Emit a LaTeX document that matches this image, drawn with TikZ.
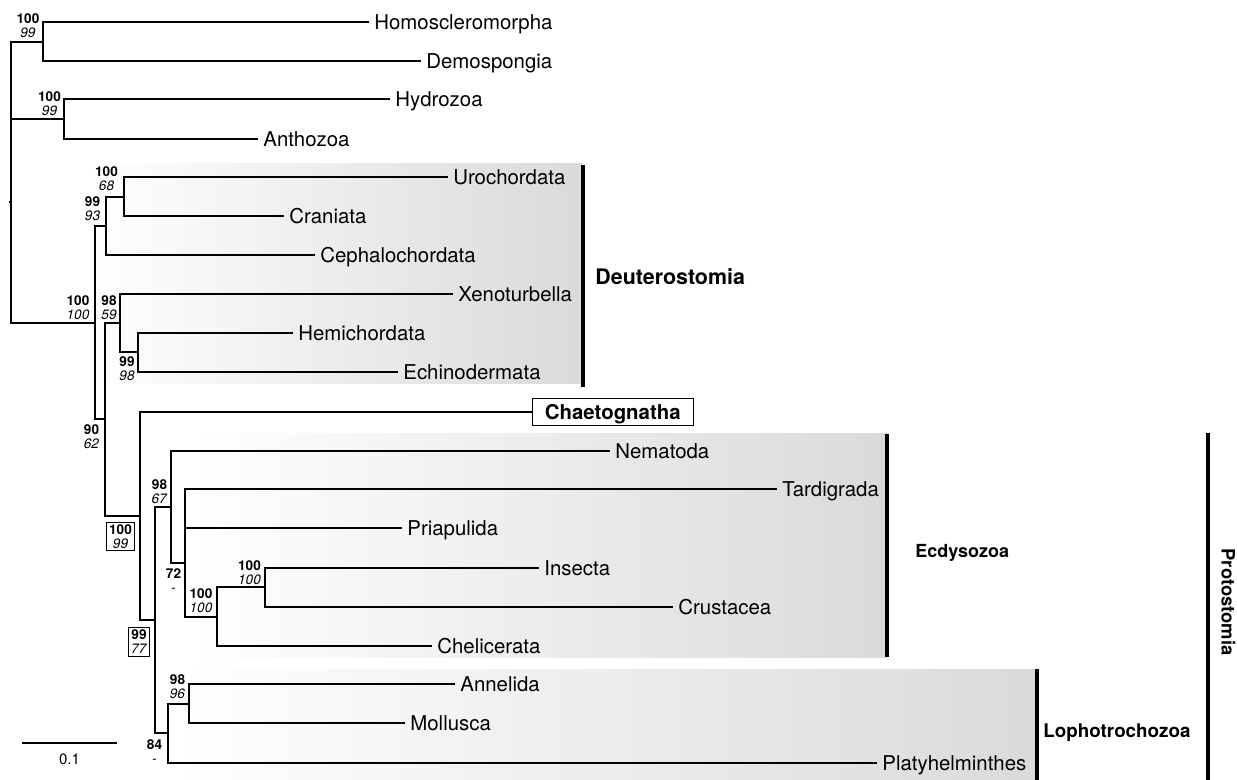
\documentclass[tikz,border=0pt]{standalone}
\usepackage{fontspec}
\setmainfont{TeX Gyre Heros}
\usepackage{tikz}
\usetikzlibrary{positioning}
\definecolor{shadegray}{HTML}{D9DADC}

\begin{document}
\begin{tikzpicture}[x=0.5pt, y=-0.5pt,
    branch/.style={line width=1.4pt},
    cladebar/.style={line width=1.7pt},
    cladebox/.style={left color=white, right color=shadegray},
    taxon/.style={anchor=west, inner xsep=2.5pt, inner ysep=0pt,
                  text height=7.3pt, text depth=0pt,
                  font=\fontsize{10.2}{12}\selectfont},
    cladename/.style={anchor=west, inner sep=0pt, text height=7.3pt,
                      text depth=0pt, font=\fontsize{10.2}{12}\selectfont\bfseries},
    bs/.style={align=center, inner sep=0pt, font=\fontsize{6.8}{7}\selectfont},
    bsbox/.style={bs, draw, line width=0.5pt, inner sep=1.1pt}
]
\useasboundingbox (0,0) rectangle (1237,780);

% --- shaded clades ---
\shade[cladebox] (88,164) rectangle (583,384);
\shade[cladebox] (190,434) rectangle (887,657);
\shade[cladebox] (177,669) rectangle (1037,780);

% --- taxa ---
\node[taxon] (homo) at (369,22)  {Homoscleromorpha};
\node[taxon] (demo) at (421,61)  {Demospongia};
\node[taxon] (hydr) at (390,99)  {Hydrozoa};
\node[taxon] (anth) at (258,139) {Anthozoa};
\node[taxon] (uroc) at (448,177) {Urochordata};
\node[taxon] (cran) at (284,216) {Craniata};
\node[taxon] (ceph) at (315,255) {Cephalochordata};
\node[taxon] (xeno) at (453,294) {Xenoturbella};
\node[taxon] (hemi) at (293,333) {Hemichordata};
\node[taxon] (echi) at (398,372) {Echinodermata};
\node[taxon, draw, line width=0.5pt, inner xsep=6.2pt, inner ysep=3.3pt,
      font=\fontsize{10.2}{12}\selectfont\bfseries] (chae) at (532,412) {Chaetognatha};
\node[taxon] (nema) at (610,451) {Nematoda};
\node[taxon] (tard) at (777,489) {Tardigrada};
\node[taxon] (pria) at (402,528) {Priapulida};
\node[taxon] (inse) at (539,568) {Insecta};
\node[taxon] (crus) at (673,607) {Crustacea};
\node[taxon] (chel) at (432,646) {Chelicerata};
\node[taxon] (anne) at (455,684) {Annelida};
\node[taxon] (moll) at (405,723) {Mollusca};
\node[taxon] (plat) at (877,763) {Platyhelminthes};

% --- internal nodes ---
\coordinate (root) at (11,202);
\coordinate (spo) at (43,42);
\coordinate (cni) at (64,119);
\coordinate (bil) at (95,323);
\coordinate (cho) at (106,226);
\coordinate (olf) at (124,197);
\coordinate (nb)  at (105,419);
\coordinate (xam) at (120,323);
\coordinate (amb) at (138,352);
\coordinate (pch) at (140,516);
\coordinate (pro) at (155,620);
\coordinate (ecd) at (171,507);
\coordinate (ec2) at (185,563);
\coordinate (art) at (217,617);
\coordinate (pan) at (265,587);
\coordinate (lph) at (168,733);
\coordinate (ann) at (189,704);

% --- branches ---
\draw[branch] (root) -- ++(-2,0);
\draw[branch] (root) |- (spo);
\draw[branch] (root) |- (cni);
\draw[branch] (root) |- (bil);
\draw[branch] (spo) |- (homo.west);
\draw[branch] (spo) |- (demo.west);
\draw[branch] (cni) |- (hydr.west);
\draw[branch] (cni) |- (anth.west);
\draw[branch] (bil) |- (cho);
\draw[branch] (bil) |- (nb);
\draw[branch] (cho) |- (olf);
\draw[branch] (cho) |- (ceph.west);
\draw[branch] (olf) |- (uroc.west);
\draw[branch] (olf) |- (cran.west);
\draw[branch] (nb) |- (xam);
\draw[branch] (nb) |- (pch);
\draw[branch] (xam) |- (xeno.west);
\draw[branch] (xam) |- (amb);
\draw[branch] (amb) |- (hemi.west);
\draw[branch] (amb) |- (echi.west);
\draw[branch] (pch) |- (chae.west);
\draw[branch] (pch) |- (pro);
\draw[branch] (pro) |- (ecd);
\draw[branch] (pro) |- (lph);
\draw[branch] (ecd) |- (nema.west);
\draw[branch] (ecd) |- (ec2);
\draw[branch] (ec2) |- (tard.west);
\draw[branch] (ec2) |- (pria.west);
\draw[branch] (ec2) |- (art);
\draw[branch] (art) |- (pan);
\draw[branch] (art) |- (chel.west);
\draw[branch] (pan) |- (inse.west);
\draw[branch] (pan) |- (crus.west);
\draw[branch] (lph) |- (ann);
\draw[branch] (lph) |- (plat.west);
\draw[branch] (ann) |- (anne.west);
\draw[branch] (ann) |- (moll.west);

% --- support values ---
\node[bs] (bspo) at (28,26)      {\textbf{100}\\\textit{99}};
\node[bs] (bcni) at (49.5,104)   {\textbf{100}\\\textit{99}};
\node[bs] (bolf) at (106.5,178.5){\textbf{100}\\\textit{68}};
\node[bs] (bcho) at (92.5,208.5) {\textbf{99}\\\textit{93}};
\node[bs] (bbil) at (78,307.5)   {\textbf{100}\\\textit{100}};
\node[bs] (bxam) at (109,307.5)  {\textbf{98}\\\textit{59}};
\node[bs] (bamb) at (127,369)    {\textbf{99}\\\textit{98}};
\node[bs] (bnb)  at (91.5,437)   {\textbf{90}\\\textit{62}};
\node[bsbox] (bpch) at (120.5,536.5) {\textbf{100}\\\textit{99}};
\node[bsbox] (bpro) at (139,642)     {\textbf{99}\\\textit{77}};
\node[bs] (becd) at (159.5,491.5) {\textbf{98}\\\textit{67}};
\node[bs] (bec2) at (173.5,581)   {\textbf{72}\\\textit{-}};
\node[bs] (bart) at (201,601)     {\textbf{100}\\\textit{100}};
\node[bs] (bpan) at (249.5,572.5) {\textbf{100}\\\textit{100}};
\node[bs] (bann) at (177.5,687)   {\textbf{98}\\\textit{96}};
\node[bs] (blph) at (154.5,751.5) {\textbf{84}\\\textit{-}};

% --- clade bars ---
\draw[cladebar] (583,165) -- (583,387);
\draw[cladebar] (887,434) -- (887,657);
\draw[cladebar] (1037,669) -- (1037,780);
\draw[cladebar] (1208,433) -- (1208,780);
\node[cladename, font=\fontsize{10.7}{12}\selectfont\bfseries] (deut) at (595,277) {Deuterostomia};
\node[cladename, font=\fontsize{9}{11}\selectfont\bfseries] (ecdy) at (915,550) {Ecdysozoa};
\node[cladename, font=\fontsize{9.4}{11}\selectfont\bfseries] (loph) at (1043,730) {Lophotrochozoa};
\node[cladename, anchor=center, rotate=-90,
      font=\fontsize{9.2}{11}\selectfont\bfseries] (prot) at (1229,602) {Protostomia};

% --- scale ---
\coordinate (sb1) at (22,743);
\coordinate (sb2) at (117,743);
\draw[branch] (sb1) -- (sb2);
\node[font=\fontsize{7.5}{9}\selectfont, inner sep=0pt] (sclab) at (69.5,759) {0.1};

\end{tikzpicture}
\end{document}
